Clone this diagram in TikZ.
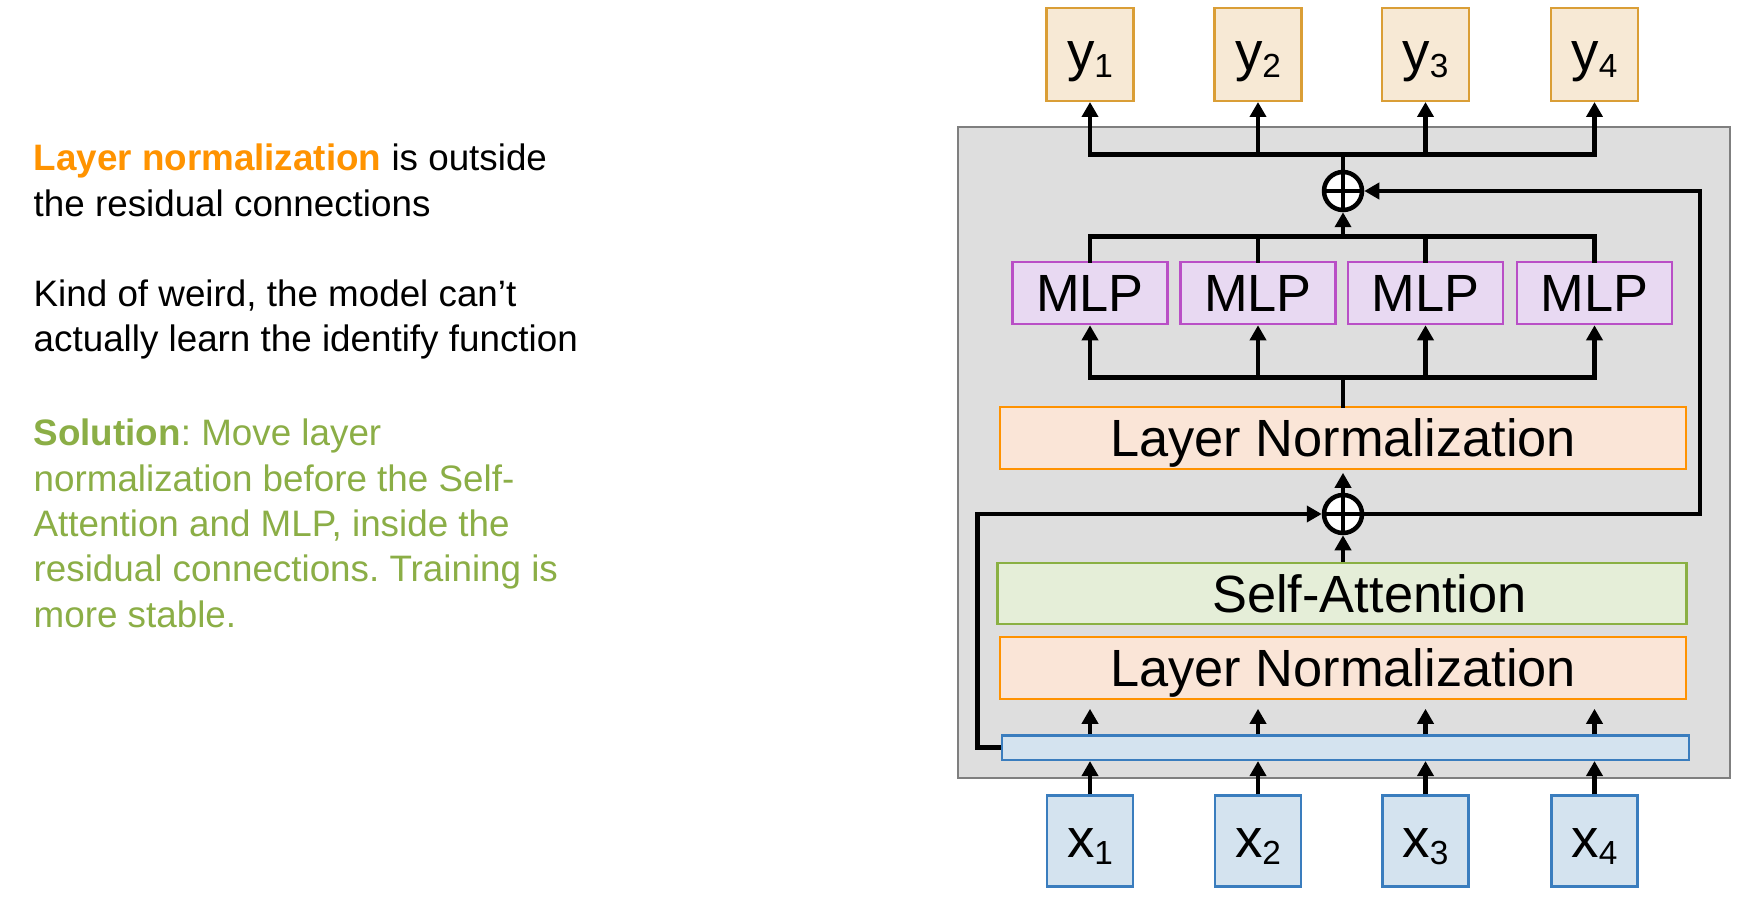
\documentclass[tikz,border=0pt]{standalone}
\usepackage{fontspec}
\setmainfont{Liberation Sans}
\usetikzlibrary{arrows.meta}

\definecolor{ygold}{HTML}{DA9E36}
\definecolor{yfill}{HTML}{F7E9D5}
\definecolor{mlpline}{HTML}{B94FC6}
\definecolor{mlpfill}{HTML}{E8D9F2}
\definecolor{lnline}{HTML}{FF9200}
\definecolor{lnfill}{HTML}{FAE5D7}
\definecolor{saline}{HTML}{8AB043}
\definecolor{safill}{HTML}{E5EED8}
\definecolor{xline}{HTML}{3A7DBE}
\definecolor{xfill}{HTML}{D4E3EF}
\definecolor{blkfill}{HTML}{DEDEDE}
\definecolor{blkline}{HTML}{7F7F7F}
\definecolor{noteorange}{HTML}{FF9300}
\definecolor{notegreen}{HTML}{8BAE46}

\newcommand{\tokidx}[1]{\raisebox{-0.7mm}{\fontsize{9.5}{10}\selectfont #1}}

\tikzset{
  box/.style={draw, line width=0.22mm, inner sep=0, text height=3.75mm, text depth=0pt,
    font=\fontsize{14.9}{16}\selectfont},
  ybox/.style={box, draw=ygold, fill=yfill, minimum width=8.7mm, minimum height=9.3mm,
    text height=3.2mm, font=\fontsize{15.6}{16}\selectfont},
  xbox/.style={box, draw=xline, fill=xfill, minimum width=8.6mm, minimum height=9.1mm,
    text height=3.2mm, font=\fontsize{15.6}{16}\selectfont},
  mlpbox/.style={box, draw=mlpline, fill=mlpfill, minimum width=15.5mm, minimum height=6.2mm},
  lnbox/.style={box, draw=lnline, fill=lnfill, minimum width=68.6mm, minimum height=6.2mm},
  sabox/.style={box, draw=saline, fill=safill, minimum width=68.9mm, minimum height=6.1mm},
  embbar/.style={box, draw=xline, fill=xfill, minimum width=68.7mm, minimum height=2.45mm, text height=0pt},
  plus/.style={circle, draw, fill=white, line width=0.45mm, minimum size=3.8mm, inner sep=0,
    path picture={\draw[line width=0.45mm] (path picture bounding box.north) -- (path picture bounding box.south)
      (path picture bounding box.west) -- (path picture bounding box.east);}},
  wire/.style={line width=0.48mm, line cap=rect},
  arr/.style={line width=0.48mm, -{Triangle[length=1.5mm,width=1.6mm]}},
  note/.style={anchor=north west, inner sep=0, align=left,
    font=\fontsize{10.47}{12.9}\selectfont\frenchspacing}
}

\begin{document}
\begin{tikzpicture}[x=0.1mm, y=-0.1mm]
        \fill[white] (0,0) rectangle (1742,906);

        \node[note] (note1) at (33,143.5) {\textbf{\color{noteorange}Layer normalization} is outside\\the residual connections};
        \node[note] (note2) at (33,279) {Kind of weird, the model can’t\\actually learn the identify function};
        \node[note, text=notegreen] (note3) at (33,418.5) {\textbf{Solution}: Move layer\\normalization before the Self-\\Attention and MLP, inside the\\residual connections. Training is\\more stable.};

        \draw[fill=blkfill, draw=blkline, line width=0.22mm] (957.7,126.7) rectangle (1730,777.7);

        \foreach \i/\cx in {1/1090,2/1258,3/1425.5,4/1594.5} {
            \node[ybox] (y\i) at (\cx,54.4) {y\tokidx{\i}};
            \node[mlpbox] (mlp\i) at (\cx,293.2) {MLP};
            \node[xbox] (x\i) at (\cx,841) {x\tokidx{\i}};
        }
        \node[lnbox] (lnA) at (1343.2,437.7) {Layer Normalization};
        \node[sabox] (sa) at (1342,593.7) {\hspace*{5.5mm}Self-Attention};
        \node[lnbox] (lnB) at (1343.2,667.7) {Layer Normalization};
        \node[embbar] (emb) at (1345.3,747.7) {};
        \node[plus] (add1) at (1343,191) {};
        \node[plus] (add2) at (1343,514) {};

        \coordinate (busY) at (1343,154.4);
        \coordinate (busT) at (1343,236.6);
        \coordinate (busB) at (1343,377.7);
        \coordinate (resL) at (977.7,747.7);
        \coordinate (resR) at (1700,191);

        \foreach \i in {1,...,4} {
            \draw[arr] (x\i.north) -- (x\i.north |- emb.south);
            \draw[arr] (emb.north -| x\i) -- ([yshift=-0.9mm]lnB.south -| x\i);
            \draw[arr] (mlp\i |- busB) -- (mlp\i.south);
            \draw[wire] (mlp\i.north) -- (mlp\i |- busT);
            \draw[arr] (y\i |- busY) -- (y\i.south);
        }
        \draw[arr] (sa.north -| add2) -- (add2.south);
        \draw[arr] (emb.west) -- (resL) |- (add2.west);
        \draw[arr] (add2.north) -- ([yshift=-0.3mm]lnA.south -| add2);
        \draw[arr] (add2.east) -| (resR) -- (add1.east);
        \draw[wire] (lnA.north -| busB) -- (busB);
        \draw[wire] (mlp1 |- busB) -- (mlp4 |- busB);
        \draw[wire] (mlp1 |- busT) -- (mlp4 |- busT);
        \draw[arr] (busT) -- (add1.south);
        \draw[wire] (add1.north) -- (busY);
        \draw[wire] (y1 |- busY) -- (y4 |- busY);
\end{tikzpicture}
\end{document}
